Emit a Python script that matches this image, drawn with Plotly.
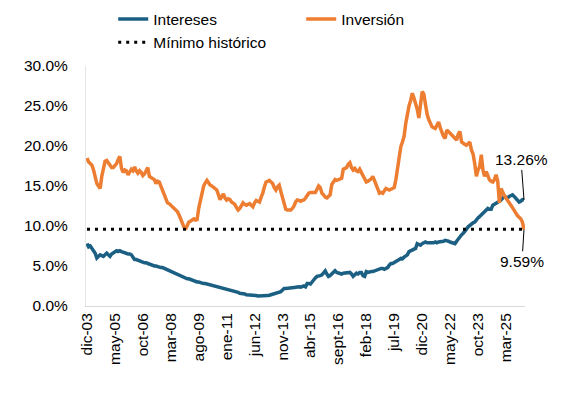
import plotly.graph_objects as go

# ---- data (monthly, dic-03 .. feb-26), values in % ----
START_YEAR = 2003
START_MONTH = 12
MONTH_ABBR = ["ene", "feb", "mar", "abr", "may", "jun", "jul", "ago", "sept", "oct", "nov", "dic"]

TICK_LABELS = ["dic-03", "may-05", "oct-06", "mar-08", "ago-09", "ene-11", "jun-12", "nov-13",
               "abr-15", "sept-16", "feb-18", "jul-19", "dic-20", "may-22", "oct-23", "mar-25"]

inversion = [
    18.5, 18.0, 17.8, 17.6, 17.0, 16.0, 15.3, 15.0, 14.7, 16.2,
    17.0, 18.1, 18.2, 17.9, 17.6, 17.3, 17.3, 17.6, 17.8, 18.3,
    18.7, 17.2, 16.7, 17.0, 16.9, 16.4, 16.8, 17.1, 16.9, 17.4,
    16.9, 16.6, 16.9, 16.7, 16.3, 16.5, 16.9, 17.3, 16.2, 16.1,
    15.9, 15.8, 15.3, 15.6, 15.5, 15.0, 14.5, 14.0, 13.3, 12.9,
    12.8, 12.6, 12.4, 12.2, 12.0, 11.8, 11.4, 10.9, 10.2, 9.9,
    9.6, 10.0, 10.5, 10.6, 10.7, 10.9, 10.75, 10.8, 12.2, 13.3,
    14.2, 15.0, 15.4, 15.7, 15.4, 15.1, 15.0, 14.8, 14.6, 14.5,
    13.9, 13.3, 13.7, 14.0, 13.5, 13.25, 13.4, 13.3, 13.0, 12.9,
    12.7, 12.3, 12.0, 12.2, 12.6, 12.9, 12.7, 12.6, 12.7, 12.8,
    12.6, 12.4, 12.9, 13.2, 13.1, 13.0, 13.6, 14.1, 14.9, 15.5,
    15.6, 15.7, 15.5, 15.3, 14.8, 14.5, 14.9, 15.1, 14.3, 13.5,
    12.6, 12.1, 12.0, 12.0, 12.0, 12.2, 12.5, 13.0, 13.25, 13.2,
    13.1, 13.2, 13.25, 13.5, 13.9, 14.1, 14.2, 14.2, 14.1, 14.2,
    14.6, 15.0, 14.8, 14.1, 13.9, 13.6, 13.5, 13.7, 13.9, 15.2,
    15.6, 15.8, 15.7, 15.75, 15.9, 15.96, 17.1, 17.2, 17.3, 17.7,
    17.9, 17.3, 17.0, 17.2, 16.9, 16.8, 17.1, 16.7, 16.3, 15.8,
    15.5, 15.6, 15.75, 15.9, 16.2, 15.6, 15.0, 14.5, 14.1, 14.2,
    14.1, 14.4, 14.7, 14.6, 14.5, 14.6, 14.7, 14.8, 15.8, 17.3,
    18.9, 19.9, 20.5, 21.2, 22.8, 24.1, 25.0, 25.7, 26.6, 26.0,
    25.3, 24.6, 23.5, 25.5, 26.8, 26.5, 25.0, 24.0, 23.3, 22.8,
    22.4, 22.3, 22.2, 22.6, 23.0, 22.3, 21.6, 21.2, 20.96, 22.0,
    21.8, 21.6, 21.4, 21.2, 20.9, 20.75, 21.5, 21.8, 20.5, 20.3,
    20.2, 20.1, 20.3, 20.5, 19.5, 19.0, 17.8, 16.2, 17.0, 17.4,
    18.9, 17.0, 16.2, 16.8, 16.3, 15.75, 15.6, 15.5, 15.8, 16.4,
    15.6, 12.9, 14.7, 14.1, 13.8, 13.5, 13.25, 12.9, 12.6, 12.3,
    11.9, 11.7, 11.3, 11.1, 10.9, 10.5, 9.59,
]

intereses = [
    7.8, 7.4, 7.5, 7.2, 7.0, 6.6, 6.0, 6.2, 6.4, 6.3,
    6.2, 6.4, 6.6, 6.4, 6.2, 6.5, 6.6, 6.8, 6.9, 6.8,
    6.9, 6.8, 6.7, 6.7, 6.6, 6.5, 6.5, 6.4, 6.1, 5.8,
    5.8, 5.7, 5.7, 5.6, 5.5, 5.4, 5.4, 5.3, 5.2, 5.1,
    5.1, 5.0, 5.0, 4.9, 4.9, 4.8, 4.8, 4.7, 4.6, 4.5,
    4.5, 4.4, 4.3, 4.2, 4.0, 3.9, 3.8, 3.7, 3.6, 3.6,
    3.5, 3.4, 3.4, 3.3, 3.25, 3.2, 3.1, 3.0, 3.0, 2.9,
    2.9, 2.8, 2.8, 2.75, 2.7, 2.6, 2.6, 2.5, 2.5, 2.4,
    2.4, 2.3, 2.3, 2.2, 2.2, 2.1, 2.1, 2.0, 2.0, 1.9,
    1.9, 1.8, 1.7, 1.6, 1.6, 1.5, 1.5, 1.4, 1.4, 1.4,
    1.3, 1.3, 1.3, 1.3, 1.25, 1.25, 1.25, 1.2, 1.3, 1.25,
    1.3, 1.35, 1.4, 1.45, 1.5, 1.6, 1.7, 1.75, 1.8, 2.0,
    2.2, 2.2, 2.2, 2.3, 2.25, 2.3, 2.3, 2.35, 2.4, 2.4,
    2.35, 2.45, 2.5, 2.4, 2.8, 2.8, 2.75, 3.0, 3.3, 3.5,
    3.7, 3.7, 3.8, 3.9, 4.2, 4.4, 4.0, 3.7, 3.8, 4.0,
    4.2, 4.4, 4.2, 4.1, 4.1, 4.0, 4.1, 4.1, 4.2, 4.1,
    4.2, 4.0, 3.7, 3.9, 4.1, 4.0, 4.2, 4.2, 3.8, 3.7,
    4.3, 4.2, 4.3, 4.3, 4.3, 4.4, 4.4, 4.5, 4.6, 4.7,
    4.7, 4.6, 4.7, 4.8, 5.1, 5.3, 5.3, 5.4, 5.5, 5.6,
    5.8, 5.96, 5.9, 6.1, 6.2, 6.4, 6.8, 6.9, 6.9, 7.0,
    7.2, 7.8, 7.7, 7.6, 7.8, 7.9, 8.0, 7.9, 7.9, 7.9,
    7.8, 7.9, 8.0, 7.9, 8.0, 8.0, 8.1, 8.1, 8.2, 8.2,
    8.1, 8.0, 7.9, 7.8, 7.8, 8.1, 8.4, 8.6, 8.9, 9.1,
    9.3, 9.6, 9.9, 10.1, 10.3, 10.4, 10.5, 10.8, 11.0, 11.2,
    11.4, 11.6, 11.7, 12.0, 12.2, 12.1, 12.1, 12.6, 12.7, 12.9,
    13.0, 13.1, 13.25, 13.5, 13.7, 13.6, 13.5, 13.7, 13.8, 13.9,
    13.7, 13.5, 13.3, 13.0, 13.1, 13.3, 13.26,
]

MINIMO_HISTORICO = 9.59
Y_TICKS = [0, 5, 10, 15, 20, 25, 30]

n = min(len(inversion), len(intereses))
inversion = inversion[:n]
intereses = intereses[:n]

# month labels as categories
categories = []
y, mth = START_YEAR, START_MONTH
for _ in range(n):
    categories.append(f"{MONTH_ABBR[mth - 1]}-{y % 100:02d}")
    mth += 1
    if mth > 12:
        mth = 1
        y += 1

x_idx = list(range(n))
tickvals = [categories.index(t) for t in TICK_LABELS if t in categories]
ticktext = [categories[i] for i in tickvals]

BLUE = "#1B5F83"
ORANGE = "#ED7D31"
FONT = "Liberation Sans"

fig = go.Figure()
fig.add_trace(go.Scatter(x=x_idx, y=intereses, mode="lines", name="Intereses",
                         line=dict(color=BLUE, width=3.5)))
fig.add_trace(go.Scatter(x=x_idx, y=inversion, mode="lines", name="Inversión",
                         line=dict(color=ORANGE, width=3.5)))
fig.add_trace(go.Scatter(x=[x_idx[0], x_idx[-1]], y=[MINIMO_HISTORICO, MINIMO_HISTORICO],
                         mode="lines", name="Mínimo histórico",
                         line=dict(color="black", width=3, dash="3px,5px")))

last = x_idx[-1]
fig.add_annotation(x=last, y=intereses[-1], text=f"{intereses[-1]:.2f}%",
                   showarrow=True, arrowhead=0, arrowwidth=1, arrowcolor="black",
                   ax=-3, ay=-40, font=dict(family=FONT, size=15.5, color="black"))
fig.add_annotation(x=last, y=inversion[-1], text=f"{inversion[-1]:.2f}%",
                   showarrow=True, arrowhead=0, arrowwidth=1, arrowcolor="black",
                   ax=-2, ay=32, font=dict(family=FONT, size=15.5, color="black"))

# the page body adds an 8px offset; margins compensate so the plot area sits at
# x 86..525 and y 66..306 in the window
fig.update_layout(
    width=569, height=397,
    margin=dict(l=78, r=52, t=58, b=99, autoexpand=False),
    paper_bgcolor="white", plot_bgcolor="white",
    font=dict(family=FONT, size=15.5, color="black"),
    showlegend=True,
    legend=dict(orientation="h", x=0.062, y=1.265, xanchor="left", yanchor="top",
                entrywidth=143, entrywidthmode="pixels",
                font=dict(family=FONT, size=15.5, color="black"),
                bgcolor="rgba(0,0,0,0)", tracegroupgap=0),
)
fig.update_xaxes(range=[-0.6, n - 0.4], tickmode="array", tickvals=tickvals, ticktext=ticktext,
                 tickangle=-90, showgrid=False, zeroline=False, showline=True,
                 linecolor="#D9D9D9", linewidth=1, ticks="", fixedrange=True)
fig.update_yaxes(range=[0, 30], tickvals=Y_TICKS, ticktext=[f"{v:.1f}%" for v in Y_TICKS],
                 showgrid=False, zeroline=False, showline=True, linecolor="#E6E6E6",
                 linewidth=1, ticks="", ticklabelstandoff=14, fixedrange=True)

fig.write_html("out.html")
